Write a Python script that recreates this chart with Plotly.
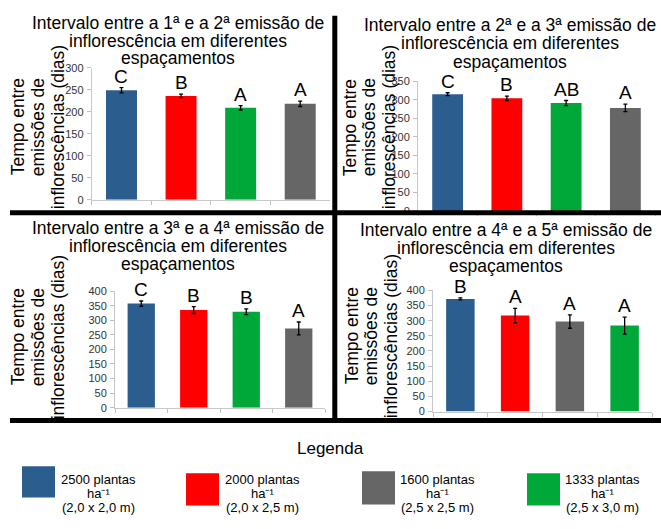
import plotly.graph_objects as go

W, H = 661, 529
FONT = "Liberation Sans, Arial, sans-serif"

# ---------------- data ----------------
group_names = ["2500 plantas ha-1", "2000 plantas ha-1", "1600 plantas ha-1", "1333 plantas ha-1"]
group_colors = ["#2C5D8F", "#FF0000", "#666666", "#00A83A"]

p1_groups = ["2500 plantas ha-1", "2000 plantas ha-1", "1333 plantas ha-1", "1600 plantas ha-1"]
p1_values = [249, 236, 209, 218]
p1_errors = [6, 4, 5, 6]
p1_letters = ["C", "B", "A", "A"]

p2_groups = ["2500 plantas ha-1", "2000 plantas ha-1", "1333 plantas ha-1", "1600 plantas ha-1"]
p2_values = [315, 304, 291, 278]
p2_errors = [4, 6, 7, 10]
p2_letters = ["C", "B", "AB", "A"]

p3_groups = ["2500 plantas ha-1", "2000 plantas ha-1", "1333 plantas ha-1", "1600 plantas ha-1"]
p3_values = [357, 335, 329, 272]
p3_errors = [9, 12, 10, 22]
p3_letters = ["C", "B", "B", "A"]

p4_groups = ["2500 plantas ha-1", "2000 plantas ha-1", "1600 plantas ha-1", "1333 plantas ha-1"]
p4_values = [372, 317, 297, 284]
p4_errors = [3, 24, 22, 28]
p4_letters = ["B", "A", "A", "A"]

y_max = [300, 350, 400, 400]

titles = [
    ["Intervalo entre a 1ª e a 2ª emissão de", "inflorescência em diferentes", "espaçamentos"],
    ["Intervalo entre a 2ª e a 3ª emissão de", "inflorescência em diferentes", "espaçamentos"],
    ["Intervalo entre a 3ª e a 4ª emissão de", "inflorescência em diferentes", "espaçamentos"],
    ["Intervalo entre a 4ª e a 5ª emissão de", "inflorescência em diferentes", "espaçamentos"],
]
y_title_lines = ["Tempo entre", "emissões de", "inflorescências (dias)"]

legend_title = "Legenda"
legend_lines = [
    ["2500 plantas", "ha⁻¹", "(2,0 x 2,0 m)"],
    ["2000 plantas", "ha⁻¹", "(2,0 x 2,5 m)"],
    ["1600 plantas", "ha⁻¹", "(2,5 x 2,5 m)"],
    ["1333 plantas", "ha⁻¹", "(2,5 x 3,0 m)"],
]

# ---------------- layout geometry (pixels) ----------------
boxes = [
    (91.7, 330, 63.2, 198.3),
    (418, 655, 77, 209.7),
    (115, 325, 291.7, 411),
    (433, 652, 291, 415),
]
title_pos = [
    (178, [17.2, 35.5, 53.5]),
    (510, [19.5, 38, 57]),
    (178, [227, 245.5, 263.5]),
    (506, [229, 247.5, 266]),
]
ytitle_pos = [
    ([18, 38, 58], 124),
    ([350, 369, 389], 124),
    ([18, 38, 58], 339),
    ([352, 371, 391], 338),
]


def fx(px):
    return px / W


def fy(py):
    return 1 - py / H


color_of = dict(zip(group_names, group_colors))
panels = [
    (p1_groups, p1_values, p1_errors, p1_letters),
    (p2_groups, p2_values, p2_errors, p2_letters),
    (p3_groups, p3_values, p3_errors, p3_letters),
    (p4_groups, p4_values, p4_errors, p4_letters),
]

fig = go.Figure()
annotations = []
layout_axes = {}

for i, (groups, vals, errs, letters) in enumerate(panels):
    k = "" if i == 0 else str(i + 1)
    xa, ya = "x" + k, "y" + k
    fig.add_trace(go.Bar(
        x=groups, y=vals, width=0.52,
        marker=dict(color=[color_of[g] for g in groups], line=dict(width=0)),
        error_y=dict(type="data", array=errs, color="black", thickness=1.3, width=2),
        xaxis=xa, yaxis=ya, hoverinfo="skip",
    ))
    x0, x1, yt, yb = boxes[i]
    layout_axes["xaxis" + k] = dict(
        domain=[fx(x0), fx(x1)], anchor=ya, type="category",
        showticklabels=False, ticks="outside", tickson="boundaries",
        ticklen=4, tickcolor="#c0c0c0", showline=True, linecolor="#c8c8c8",
        linewidth=1, showgrid=False, zeroline=False, fixedrange=True,
    )
    layout_axes["yaxis" + k] = dict(
        domain=[fy(yb), fy(yt)], anchor=xa, range=[0, y_max[i]], dtick=50,
        showline=True, linecolor="#c8c8c8", linewidth=1, ticks="outside",
        ticklen=4, tickcolor="#c0c0c0", showgrid=False, zeroline=False,
        tickfont=dict(family=FONT, size=11, color="#333333"), ticklabelstandoff=1,
        fixedrange=True,
    )
    for g, v, e, L in zip(groups, vals, errs, letters):
        annotations.append(dict(
            x=g, y=v + e, xref=xa, yref=ya, text=L, showarrow=False,
            yanchor="bottom", xanchor="center", yshift=-1,
            font=dict(family=FONT, size=19, color="black"),
        ))
    cx, ys = title_pos[i]
    for line, yy in zip(titles[i], ys):
        annotations.append(dict(
            x=fx(cx), y=fy(yy), xref="paper", yref="paper", text=line,
            showarrow=False, xanchor="center", yanchor="middle",
            font=dict(family=FONT, size=17.5, color="black"),
        ))
    xs, cy = ytitle_pos[i]
    for line, xx in zip(y_title_lines, xs):
        annotations.append(dict(
            x=fx(xx), y=fy(cy), xref="paper", yref="paper", text=line,
            showarrow=False, xanchor="center", yanchor="middle", textangle=-90,
            font=dict(family=FONT, size=17.5, color="black"),
        ))

# legend
annotations.append(dict(
    x=fx(330), y=fy(453), xref="paper", yref="paper", text=legend_title,
    showarrow=False, xanchor="center", yanchor="middle",
    font=dict(family=FONT, size=17, color="black"),
))
legend_boxes = [(22, 55, 471, 503), (186, 219, 478, 511), (362, 395, 476, 510), (527, 560, 478, 511)]
legend_text_x = [98, 262, 437, 602]
legend_text_y = [484, 499, 513]
shapes = []
for j, (bx0, bx1, by0, by1) in enumerate(legend_boxes):
    shapes.append(dict(type="rect", xref="paper", yref="paper",
                       x0=fx(bx0), x1=fx(bx1), y0=fy(by1), y1=fy(by0),
                       fillcolor=group_colors[j], line=dict(width=0)))
    for line, yy in zip(legend_lines[j], legend_text_y):
        annotations.append(dict(
            x=fx(legend_text_x[j]), y=fy(yy), xref="paper", yref="paper", text=line,
            showarrow=False, xanchor="center", yanchor="middle",
            font=dict(family=FONT, size=13, color="black"),
        ))

# black separator lines
sep = [
    (334.8, 10, 334.8, 426),
    (10, 211.5, 661, 211.5),
    (10, 424, 661, 424),
]
for (a0, b0, a1, b1) in sep:
    shapes.append(dict(type="line", xref="paper", yref="paper", layer="above",
                       x0=fx(a0), y0=fy(b0), x1=fx(a1), y1=fy(b1),
                       line=dict(color="black", width=5)))

fig.update_layout(
    width=W, height=H, margin=dict(l=0, r=0, t=0, b=0),
    paper_bgcolor="white", plot_bgcolor="white", showlegend=False,
    annotations=annotations, shapes=shapes, **layout_axes,
)

fig.write_html(
    "out.html",
    config={"displayModeBar": False},
    post_script="document.body.style.margin='0px';document.body.style.overflow='hidden';",
)
